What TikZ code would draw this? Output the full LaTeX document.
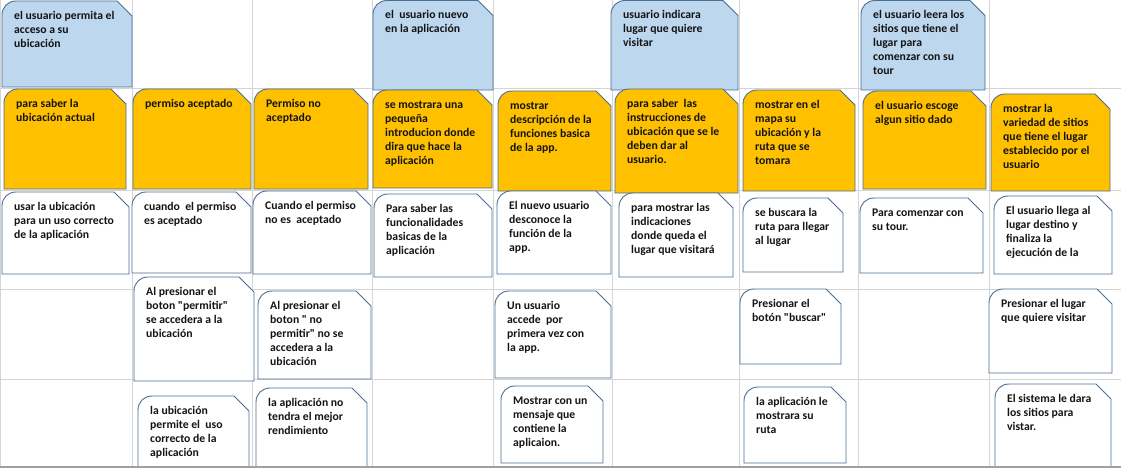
\documentclass[tikz,border=0pt]{standalone}
\usepackage{fontspec}
\setmainfont{Carlito}[Ligatures=TeXOff]
\definecolor{cardblue}{HTML}{BDD7EE}
\definecolor{cardorange}{HTML}{FFC000}
\definecolor{cardedge}{HTML}{4A6E94}
\definecolor{gridgray}{HTML}{D4D4D4}
\definecolor{bordergray}{HTML}{A0A0A0}
\definecolor{txtcol}{HTML}{141414}
\tikzset{
  cardline/.style={draw=cardedge, line width=0.9pt, line join=miter},
  bluecard/.style={fill=cardblue},
  orangecard/.style={fill=cardorange},
  whitecard/.style={fill=white},
  cardtext/.style={anchor=north west, inner sep=0pt, align=left, text=txtcol,
    font=\fontsize{11.7}{14}\selectfont\bfseries},
  gridline/.style={draw=gridgray, line width=1pt},
  bottomline/.style={draw=bordergray, line width=2pt}
}
\newcommand\mycard[7]{%
  \draw[cardline,#6] (#2,#5) -- (#2,#3+14) .. controls (#2,#3+6) and (#2+6,#3) .. (#2+14,#3) -- (#4-15,#3) -- (#4,#3+15) -- (#4,#5) -- cycle;
  \node[cardtext] (#1) at (#2+12,#3+8.2) {\strut #7};
}
\begin{document}
\begin{tikzpicture}[x=1pt,y=-1pt]
\useasboundingbox (0,0) rectangle (1121,468);
\begin{scope}
\clip (0,0) rectangle (1121,468);
\fill[white] (0,0) rectangle (1121,468);
% grid
\foreach \gx in {0.5,132.5,252.5,372.5,493,612,739,858.5,989}
  \draw[gridline] (\gx,0) -- (\gx,468);
\foreach \gy in {89,190.5,289,379}
  \draw[gridline] (0,\gy) -- (1121,\gy);
% row 1
\mycard{b1}{2}{1}{132}{87}{bluecard}{el usuario permita el\\acceso a su\\ubicación}
\mycard{b4}{373}{0.5}{493}{90}{bluecard}{el\ \ usuario nuevo\\en la aplicación}
\mycard{b6}{611}{0.5}{738}{90}{bluecard}{usuario indicara\\lugar que quiere\\visitar}
\mycard{b8}{861}{0.5}{985}{90}{bluecard}{el usuario leera los\\sitios que tiene el\\lugar para\\comenzar con su\\tour}
% row 2
\mycard{o1}{4}{89}{126}{189}{orangecard}{para saber la\\ubicación actual}
\mycard{o2}{133}{89}{251}{189}{orangecard}{permiso aceptado}
\mycard{o3}{254}{89}{368}{189}{orangecard}{Permiso no\\aceptado}
\mycard{o4}{373}{90}{492}{188}{orangecard}{se mostrara una\\pequeña\\introducion donde\\dira que hace la\\aplicación}
\mycard{o5}{498}{91}{611}{191}{orangecard}{mostrar\\descripción de la\\funciones basica\\de la app.}
\mycard{o6}{615}{89}{738}{193}{orangecard}{para saber\ \ las\\instrucciones de\\ubicación que se le\\deben dar al\\usuario.}
\mycard{o7}{743}{90}{855}{191}{orangecard}{mostrar en el\\mapa su\\ubicación y la\\ruta que se\\tomara}
\mycard{o8}{863}{91}{986}{189}{orangecard}{el usuario escoge\\algun sitio dado}
\mycard{o9}{991}{94}{1110}{191}{orangecard}{mostrar la\\variedad de sitios\\que tiene el lugar\\establecido por el\\usuario}
% row 3
\mycard{w31}{2}{192}{129}{274}{whitecard}{usar la ubicación\\para un uso correcto\\de la aplicación}
\mycard{w32}{132}{192}{251}{273}{whitecard}{cuando\ \ el permiso\\es aceptado}
\mycard{w33}{253}{191}{371}{274}{whitecard}{Cuando el permiso\\no es\ \ aceptado}
\mycard{w34}{374}{194}{492}{277}{whitecard}{Para saber las\\funcionalidades\\basicas de la\\aplicación}
\mycard{w35}{497}{191}{611}{274}{whitecard}{El nuevo usuario\\desconoce la\\función de la\\app.}
\mycard{w36}{619}{193}{733}{277}{whitecard}{para mostrar las\\indicaciones\\donde queda el\\lugar que visitará}
\mycard{w37}{743}{198}{843}{272}{whitecard}{se buscara la\\ruta para llegar\\al lugar}
\mycard{w38}{860}{198}{983}{273}{whitecard}{Para comenzar con\\su tour.}
\mycard{w39}{994}{196}{1112}{274}{whitecard}{El usuario llega al\\lugar destino y\\finaliza la\\ejecución de la}
% row 4
\mycard{w42}{134}{277}{254}{381}{whitecard}{Al presionar el\\boton "permitir"\\se accedera a la\\ubicación}
\mycard{w43}{258}{291}{371}{379}{whitecard}{Al presionar el\\boton " no\\permitir" no se\\accedera a la\\ubicación}
\mycard{w45}{495}{291}{611}{378}{whitecard}{Un usuario\\accede\ \ por\\primera vez con\\la app.}
\mycard{w47}{740}{289}{841}{364}{whitecard}{Presionar el\\botón "buscar"}
\mycard{w49}{989}{289}{1112}{373}{whitecard}{Presionar el lugar\\que quiere visitar}
% row 5
\mycard{w52}{138}{396}{249}{480}{whitecard}{la ubicación\\permite el\ \ uso\\correcto de la\\aplicación}
\mycard{w53}{256}{388}{367}{467}{whitecard}{la aplicación no\\tendra el mejor\\rendimiento}
\mycard{w55}{501}{386}{603}{463}{whitecard}{Mostrar con un\\mensaje que\\contiene la\\aplicaion.}
\mycard{w57}{744}{387}{846}{463}{whitecard}{la aplicación le\\mostrara su\\ruta}
\mycard{w59}{995}{384}{1111}{480}{whitecard}{El sistema le dara\\los sitios para\\vistar.}
% bottom border
\draw[bottomline] (0,467) -- (1121,467);
\end{scope}
\end{tikzpicture}
\end{document}
